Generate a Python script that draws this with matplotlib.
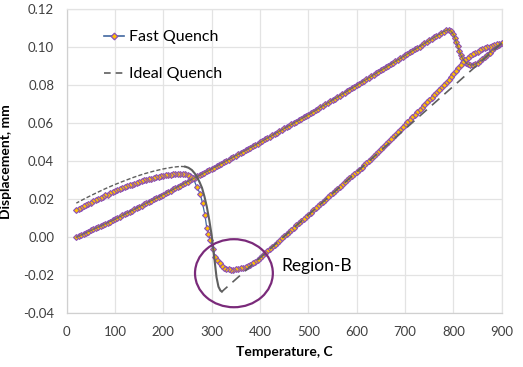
import matplotlib
matplotlib.use("Agg")
import matplotlib.pyplot as plt
from matplotlib.lines import Line2D
from matplotlib.patches import Ellipse

plt.rcParams['font.family'] = ['Lato', 'DejaVu Sans']

# ---------------- data ----------------
# Fast quench, heating branch (temperature C, displacement mm)
heat_T = [20, 25, 30, 35, 40, 45, 50, 55, 60, 65, 70, 75, 80, 85, 90, 95, 100,
          105, 110, 115, 120, 125, 130, 135, 140, 145, 150, 155, 160, 165, 170, 175, 180, 185, 190, 195, 200,
          205, 210, 215, 220, 225, 230, 235, 240, 245, 250, 255, 260, 265, 270, 275, 280, 285, 290, 295, 300,
          305, 310, 315, 320, 325, 330, 335, 340, 345, 350, 355, 360, 365, 370, 375, 380, 385, 390, 395, 400,
          405, 410, 415, 420, 425, 430, 435, 440, 445, 450, 455, 460, 465, 470, 475, 480, 485, 490, 495, 500,
          505, 510, 515, 520, 525, 530, 535, 540, 545, 550, 555, 560, 565, 570, 575, 580, 585, 590, 595, 600,
          605, 610, 615, 620, 625, 630, 635, 640, 645, 650, 655, 660, 665, 670, 675, 680, 685, 690, 695, 700,
          705, 710, 715, 720, 725, 730, 735, 740, 745, 750, 755, 760, 765, 770, 775, 780, 785, 790,
          795, 800, 803, 806, 809, 812, 815, 818, 822, 826, 830, 835, 840, 845, 850, 855, 860, 865, 870, 875,
          880, 885, 890, 895, 900]
heat_d = [0.0000, 0.0006, 0.0012, 0.0018, 0.0024, 0.0030, 0.0036, 0.0042, 0.0048, 0.0053, 0.0059, 0.0065,
          0.0071, 0.0077, 0.0083, 0.0089, 0.0095,
          0.0102, 0.0108, 0.0115, 0.0121, 0.0128, 0.0134, 0.0141, 0.0147, 0.0154, 0.0160, 0.0167, 0.0173,
          0.0180, 0.0186, 0.0193, 0.0199, 0.0206, 0.0212, 0.0219, 0.0225,
          0.0232, 0.0239, 0.0245, 0.0252, 0.0259, 0.0266, 0.0272, 0.0279, 0.0286, 0.0293, 0.0299, 0.0306,
          0.0313, 0.0320, 0.0326, 0.0333, 0.0340, 0.0347, 0.0353, 0.0360,
          0.0367, 0.0374, 0.0381, 0.0388, 0.0395, 0.0402, 0.0409, 0.0416, 0.0423, 0.0430, 0.0437, 0.0444,
          0.0451, 0.0458, 0.0465, 0.0472, 0.0479, 0.0486, 0.0493, 0.0500,
          0.0507, 0.0515, 0.0522, 0.0529, 0.0536, 0.0544, 0.0551, 0.0558, 0.0565, 0.0573, 0.0580, 0.0587,
          0.0594, 0.0602, 0.0609, 0.0616, 0.0623, 0.0631, 0.0638, 0.0645,
          0.0653, 0.0661, 0.0668, 0.0676, 0.0684, 0.0692, 0.0699, 0.0707, 0.0715, 0.0723, 0.0730, 0.0738,
          0.0746, 0.0754, 0.0761, 0.0769, 0.0777, 0.0785, 0.0792, 0.0800,
          0.0808, 0.0816, 0.0824, 0.0831, 0.0839, 0.0847, 0.0855, 0.0863, 0.0871, 0.0879, 0.0886, 0.0894,
          0.0902, 0.0910, 0.0918, 0.0926, 0.0933, 0.0941, 0.0949, 0.0957,
          0.0965, 0.0973, 0.0981, 0.0989, 0.0996, 0.1004, 0.1012, 0.1020, 0.1028, 0.1036, 0.1044, 0.1052,
          0.1059, 0.1067, 0.1075, 0.1083, 0.1089, 0.1092,
          0.1085, 0.1068, 0.1050, 0.1028, 0.1005, 0.0982, 0.0962, 0.0946, 0.0930, 0.0918, 0.0911, 0.0907,
          0.0907, 0.0911, 0.0918, 0.0927, 0.0937, 0.0948, 0.0960, 0.0972, 0.0984, 0.0995, 0.1005, 0.1014,
          0.1021]

# Fast quench, cooling branch
cool_T = [895, 890, 885, 880, 875, 870, 865, 860, 855, 850, 845, 840, 835, 830, 825, 820, 815, 810, 805, 800,
          795, 790, 785, 780, 775, 770, 765, 760, 755, 750, 745, 740, 735, 730, 725, 720, 715, 710, 705, 700,
          695, 690, 685, 680, 675, 670, 665, 660, 655, 650, 645, 640, 635, 630, 625, 620, 615, 610, 605, 600,
          595, 590, 585, 580, 575, 570, 565, 560, 555, 550, 545, 540, 535, 530, 525, 520, 515, 510, 505, 500,
          495, 490, 485, 480, 475, 470, 465, 460, 455, 450, 445, 440, 435, 430, 425, 420, 415, 410, 405, 400,
          395, 390, 385, 380, 375, 370, 365, 360, 355, 350, 345, 340, 335, 330, 326, 322, 317, 312, 307, 302,
          297, 293, 290, 286, 281, 276, 269, 262, 255, 250,
          245, 240, 235, 230, 225, 220, 215, 210, 205, 200, 195, 190, 185, 180, 175, 170, 165, 160, 155, 150,
          145, 140, 135, 130, 125, 120, 115, 110, 105, 100, 95, 90, 85, 80, 75, 70, 65, 60, 55, 50,
          45, 40, 35, 30, 25, 20]
cool_d = [0.1019, 0.1016, 0.1012, 0.1008, 0.1004, 0.1000, 0.0995, 0.0990, 0.0984, 0.0977, 0.0970, 0.0963,
          0.0955, 0.0946, 0.0935, 0.0922, 0.0906, 0.0890, 0.0873, 0.0857,
          0.0842, 0.0828, 0.0813, 0.0799, 0.0786, 0.0774, 0.0761, 0.0748, 0.0735, 0.0723, 0.0710, 0.0697,
          0.0683, 0.0670, 0.0658, 0.0645, 0.0631, 0.0618, 0.0606, 0.0593,
          0.0579, 0.0566, 0.0553, 0.0540, 0.0528, 0.0515, 0.0502, 0.0489, 0.0476, 0.0464, 0.0451, 0.0439,
          0.0426, 0.0414, 0.0402, 0.0391, 0.0379, 0.0367, 0.0356, 0.0345,
          0.0334, 0.0322, 0.0311, 0.0300, 0.0289, 0.0277, 0.0266, 0.0255, 0.0243, 0.0232, 0.0221, 0.0210,
          0.0198, 0.0187, 0.0176, 0.0164, 0.0153, 0.0142, 0.0130, 0.0119,
          0.0108, 0.0097, 0.0085, 0.0074, 0.0063, 0.0051, 0.0040, 0.0029, 0.0017, 0.0006, -0.0005, -0.0017,
          -0.0028, -0.0039, -0.0051, -0.0062, -0.0073, -0.0085, -0.0096, -0.0107,
          -0.0118, -0.0128, -0.0137, -0.0145, -0.0152, -0.0157, -0.0161, -0.0164, -0.0167, -0.0169, -0.0170,
          -0.0170, -0.0169, -0.0166, -0.0160, -0.0151, -0.0137, -0.0122, -0.0102, -0.0060,
          -0.0014, 0.0020, 0.0047, 0.0117, 0.0180, 0.0230, 0.0266, 0.0310, 0.0323, 0.0329,
          0.0332, 0.0333, 0.0334, 0.0333, 0.0332, 0.0331, 0.0330, 0.0328, 0.0326, 0.0324, 0.0321, 0.0318,
          0.0316, 0.0313, 0.0309, 0.0306, 0.0303, 0.0299, 0.0295, 0.0291,
          0.0286, 0.0282, 0.0277, 0.0273, 0.0268, 0.0263, 0.0258, 0.0253, 0.0247, 0.0242, 0.0236, 0.0231,
          0.0225, 0.0220, 0.0214, 0.0208, 0.0202, 0.0196, 0.0189, 0.0183,
          0.0177, 0.0170, 0.0163, 0.0156, 0.0149, 0.0142]

# Ideal quench: heating identical to fast quench heating; cooling below
ideal_cool_T = [900, 321, 318, 314, 310, 305, 300, 295, 290, 285, 280, 275, 270, 265, 259, 252, 245,
                235, 220, 200, 180, 160, 140, 120, 100, 80, 60, 40, 20]
ideal_cool_d = [0.1021, -0.0286, -0.0280, -0.0260, -0.0210, -0.0100, 0.0010, 0.0090, 0.0160, 0.0215,
                0.0260, 0.0290, 0.0315, 0.0336, 0.0354, 0.0366, 0.0372,
                0.0373, 0.0369, 0.0360, 0.0348, 0.0334, 0.0317, 0.0298, 0.0278, 0.0256, 0.0232, 0.0207, 0.0180]

x_ticks = [0, 100, 200, 300, 400, 500, 600, 700, 800, 900]
y_ticks = [-0.04, -0.02, 0.00, 0.02, 0.04, 0.06, 0.08, 0.10, 0.12]

# ---------------- figure ----------------
fig = plt.figure(figsize=(5.23, 3.67), dpi=100)
ax = fig.add_axes([0.1275, 0.1463, 0.8318, 0.8284])

fast_T = heat_T + cool_T
fast_d = heat_d + cool_d
line_blue = '#41679F'
orange = '#FFC000'
purple = '#8A4FB8'
gray = '#5F5F5F'

ax.plot(fast_T, fast_d, color=line_blue, lw=0.9, marker='D', ms=3.0,
        mfc=orange, mec=purple, mew=0.8, zorder=3)

# ideal quench
ax.plot(heat_T, heat_d, color=gray, lw=0.9, zorder=4, alpha=0.75)
ax.plot(ideal_cool_T[0:2], ideal_cool_d[0:2], color=gray, lw=1.2, dashes=(6, 4), zorder=4)
ax.plot(ideal_cool_T[1:17], ideal_cool_d[1:17], color=gray, lw=1.5, zorder=4)
ax.plot(ideal_cool_T[16:], ideal_cool_d[16:], color=gray, lw=1.0, dashes=(3, 1.5), zorder=4)

# Region-B annotation
ax.add_patch(Ellipse((346, -0.0189), 161, 0.0358, fill=False, edgecolor='#7A2A7A', lw=1.6, zorder=5))
ax.text(445, -0.0151, 'Region-B', fontsize=12.5, va='center', ha='left', color='black', zorder=6)

ax.set_xlim(0, 900)
ax.set_ylim(-0.04, 0.12)
ax.set_xticks(x_ticks)
ax.set_yticks(y_ticks)
ax.set_xticklabels([str(v) for v in x_ticks])
ax.set_yticklabels([f'{v:.2f}' for v in y_ticks])
ax.tick_params(length=0, labelsize=9.5, colors='#404040')
ax.tick_params(axis='x', pad=9)
ax.tick_params(axis='y', pad=9)
ax.grid(True, color='#E3E3E3', lw=0.9, zorder=0)
ax.set_axisbelow(True)
for s in ['top', 'right']:
    ax.spines[s].set_color('#E3E3E3')
    ax.spines[s].set_linewidth(0.9)
for s in ['left', 'bottom']:
    ax.spines[s].set_color('#D0D0D0')
    ax.spines[s].set_linewidth(0.9)

ax.set_xlabel('Temperature, C', fontsize=10, fontweight='bold', labelpad=6)
ax.set_ylabel('Displacement, mm', fontsize=10, fontweight='bold', labelpad=8)

h1 = Line2D([], [], color=line_blue, lw=1.2, marker='D', ms=3.4, mfc=orange, mec=purple, mew=0.9)
h2 = Line2D([], [], color=gray, lw=1.2, dashes=(4, 3))
ax.legend([h1, h2], ['Fast Quench', 'Ideal Quench'], loc='upper left',
          bbox_to_anchor=(0.086, 0.932), frameon=False, fontsize=11.5,
          handlelength=1.25, handletextpad=0.3, labelspacing=1.45,
          borderaxespad=0, borderpad=0)

fig.savefig('out.png', dpi=100)
